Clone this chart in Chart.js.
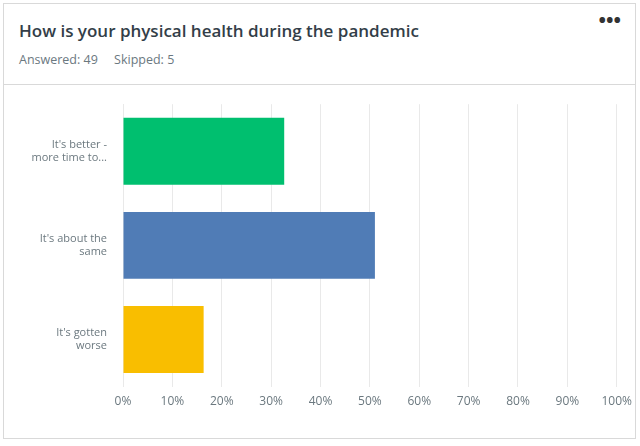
<!DOCTYPE html>
<html><head><meta charset="utf-8">
<script src="https://cdn.jsdelivr.net/npm/chart.js@4"></script>
<style>
body{margin:0;background:#fff;font-family:"Open Sans",sans-serif;}
#wrap{position:absolute;left:3px;top:3px;width:633px;height:436px;border:1px solid #d9d9d9;box-sizing:border-box;}
#t{position:absolute;left:15px;top:15px;font-size:17px;color:#333e48;font-weight:600;}
#s{position:absolute;left:15px;top:47px;font-size:12.5px;color:#6b787f;}
#dots{position:absolute;right:14px;top:2px;font-size:20px;color:#333;font-weight:bold;}
#sep{position:absolute;left:0;right:0;top:80px;border-top:1px solid #d9d9d9;}
#c{position:absolute;left:0;top:83px;}
</style></head><body>
<div id="wrap"><div id="t">How is your physical health during the pandemic</div>
<div id="s">Answered: 49&nbsp;&nbsp;&nbsp;&nbsp;&nbsp;Skipped: 5</div>
<div id="dots">•••</div><div id="sep"></div></div>
<canvas id="c" width="640" height="345"></canvas>
<script>
const categories=[["It's better -","more time to..."],["It's about the","same"],["It's gotten","worse"]];
const values=[32.65,51.02,16.33];
const colors=["#00bf6f","#507cb6","#f9be00"];
const ticks=["0%","10%","20%","30%","40%","50%","60%","70%","80%","90%","100%"];
const c=document.getElementById('c');c.style.width='640px';c.style.height='345px';
new Chart(c,{type:'bar',data:{labels:categories,datasets:[{data:values,backgroundColor:colors,barPercentage:0.71,categoryPercentage:1}]},
options:{indexAxis:'y',responsive:false,animation:false,devicePixelRatio:1,
layout:{padding:{top:5,right:9,bottom:11}},
plugins:{legend:{display:false},tooltip:{enabled:false}},
scales:{x:{min:0,max:100,ticks:{stepSize:10,color:'#6b787f',font:{size:12,family:'Open Sans'},padding:8,callback:(v,i)=>ticks[i]},grid:{color:'#e9e9e9',drawTicks:false},border:{display:false}},
y:{afterFit:s=>{s.width=123;},ticks:{color:'#6b787f',font:{size:11,family:'Open Sans'},padding:8},grid:{display:false},border:{color:'#e9e9e9'}}}}});
</script></body></html>
